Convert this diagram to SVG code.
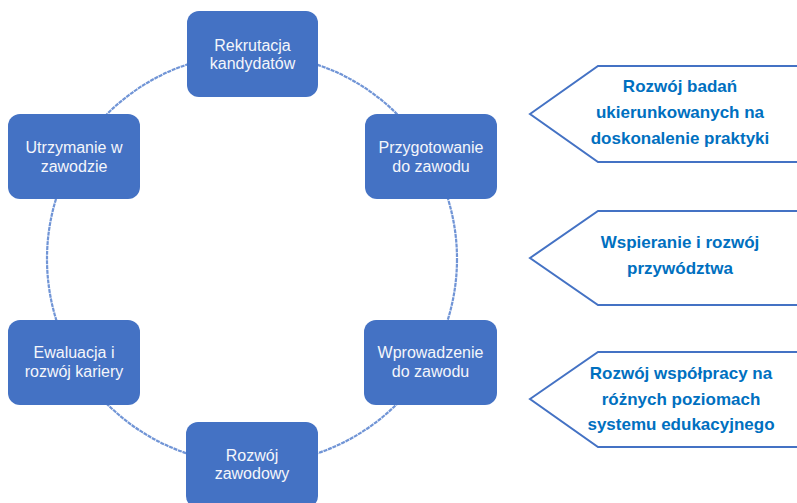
<svg xmlns="http://www.w3.org/2000/svg" width="797" height="503" viewBox="0 0 797 503">
<style>
.node rect{fill:#4472C4;}
.node text{fill:#f4f6fb;font-family:"Liberation Sans",Arial,sans-serif;font-size:16px;text-anchor:middle;}
.ring{fill:none;stroke:#7195d6;stroke-width:2.2;stroke-dasharray:4 0.8;}
.tag polygon{fill:#ffffff;stroke:#4472C4;stroke-width:2;}
.tag text{fill:#0070C0;font-family:"Liberation Sans",Arial,sans-serif;font-size:17px;font-weight:bold;text-anchor:middle;}
</style>
<rect width="797" height="503" fill="#ffffff"/>
<g id="connectors">
<circle class="ring" cx="252" cy="259" r="205"/>
</g>
<g id="n1" class="node"><rect x="187" y="11" width="131" height="86" rx="12"/><text x="252.5" y="51">Rekrutacja</text><text x="252.5" y="69">kandydatów</text></g>
<g id="n2" class="node"><rect x="365" y="114" width="132" height="85" rx="12"/><text x="431" y="153">Przygotowanie</text><text x="431" y="172">do zawodu</text></g>
<g id="n3" class="node"><rect x="364" y="320" width="133" height="85" rx="12"/><text x="430.5" y="358">Wprowadzenie</text><text x="430.5" y="377">do zawodu</text></g>
<g id="n4" class="node"><rect x="186" y="422" width="132" height="86" rx="12"/><text x="252" y="461">Rozwój</text><text x="252" y="479">zawodowy</text></g>
<g id="n5" class="node"><rect x="8" y="320" width="132" height="85" rx="12"/><text x="74" y="358">Ewaluacja i</text><text x="74" y="377">rozwój kariery</text></g>
<g id="n6" class="node"><rect x="8" y="114" width="132" height="85" rx="12"/><text x="74" y="153">Utrzymanie w</text><text x="74" y="172">zawodzie</text></g>
<g id="t1" class="tag"><polygon points="530,114 598,66 800,66 800,162 598,162"/><text x="680" y="92">Rozwój badań</text><text x="680" y="118">ukierunkowanych na</text><text x="680" y="144">doskonalenie praktyki</text></g>
<g id="t2" class="tag"><polygon points="530,258 598,211 800,211 800,305 598,305"/><text x="680" y="248">Wspieranie i rozwój</text><text x="680" y="274">przywództwa</text></g>
<g id="t3" class="tag"><polygon points="530,399 598,352 800,352 800,447 598,447"/><text x="681" y="379">Rozwój współpracy na</text><text x="681" y="405">różnych poziomach</text><text x="681" y="430">systemu edukacyjnego</text></g>
</svg>
